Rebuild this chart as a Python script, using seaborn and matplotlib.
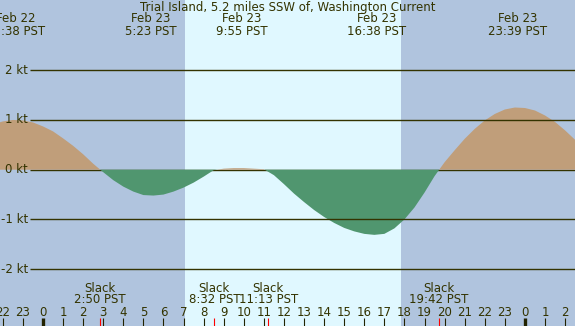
import numpy as np
import seaborn as sns
import matplotlib.pyplot as plt
from matplotlib.transforms import blended_transform_factory

title = "Trial Island, 5.2 miles SSW of, Washington Current"

# current speed (kt), read every half hour, hours counted from Feb 23 00:00
hours = np.arange(-2.5, 27.01, 0.5)
speed = [0.91, 0.97, 1.00, 0.99, 0.95, 0.87, 0.77, 0.63, 0.48, 0.31, 0.12, -0.05,
         -0.21, -0.34, -0.44, -0.51, -0.52, -0.50, -0.44, -0.36, -0.26, -0.14, -0.01, 0.02,
         0.03, 0.03, 0.02, 0.01, -0.11, -0.29, -0.48, -0.65, -0.81, -0.95, -1.07, -1.17,
         -1.24, -1.29, -1.31, -1.29, -1.18, -1.00, -0.76, -0.46, -0.13, 0.15, 0.39, 0.62,
         0.82, 0.99, 1.12, 1.21, 1.25, 1.24, 1.19, 1.09, 0.96, 0.79, 0.60, 0.38]

# max / min events
event_hours = [-1.367, 5.383, 9.917, 16.633, 23.65]
event_dates = ["Feb 22", "Feb 23", "Feb 23", "Feb 23", "Feb 23"]
event_times = ["22:38 PST", "5:23 PST", "9:55 PST", "16:38 PST", "23:39 PST"]

# slack water
slack_hours = [2.833, 8.533, 11.217, 19.7]
slack_times = ["2:50 PST", "8:32 PST", "11:13 PST", "19:42 PST"]

sunrise, sunset = 7.07, 17.83
kt_levels = [2, 1, 0, -1, -2]
hour_ticks = list(range(-2, 27))

night = "#b0c4de"
day = "#e0f8ff"
flood = "#c09e7a"
ebb = "#50966f"
ink = "#333300"

sns.set_style("white")
plt.rcParams["font.family"] = ["DejaVu Sans"]

fig = plt.figure(figsize=(5.75, 3.26), dpi=100)
ax = fig.add_axes([0, 0, 1, 1])
ax.set_facecolor(night)
ax.set_xlim(-2.141, 26.494)
ax.set_ylim(-3.142, 3.411)
for s in ["left", "right", "top", "bottom"]:
    ax.spines[s].set_visible(False)
ax.set_xticks([])
ax.set_yticks([])

ax.axvspan(sunrise, sunset, color=day, lw=0, zorder=0)

spd = np.array(speed)
ax.hlines(0, -0.647, 26.6, color=ink, lw=1.0, zorder=1)
ax.fill_between(hours, spd, 0, where=spd >= 0, interpolate=True, color=flood, lw=0, zorder=2)
ax.fill_between(hours, spd, 0, where=spd <= 0, interpolate=True, color=ebb, lw=0, zorder=2)

for k in kt_levels:
    if k != 0:
        ax.hlines(k, -0.647, 26.6, color=ink, lw=1.0, zorder=3)
    ax.text(-0.747, k, f"{k} kt", ha="right", va="center", fontsize=8.5, color=ink)

tr = blended_transform_factory(ax.transData, ax.transAxes)
H = 326.0

fig.text(0.5, 1 - 7.5 / H, title, ha="center", va="center", fontsize=8.5, color=ink)

for h, d, t in zip(event_hours, event_dates, event_times):
    ax.text(h, 1 - 19 / H, d, transform=tr, ha="center", va="center", fontsize=8.5, color=ink)
    ax.text(h, 1 - 31.5 / H, t, transform=tr, ha="center", va="center", fontsize=8.5, color=ink)

for h, t in zip(slack_hours, slack_times):
    ax.text(h, 1 - 288 / H, "Slack", transform=tr, ha="center", va="center", fontsize=8.5, color=ink)
    ax.text(h, 1 - 299.5 / H, t, transform=tr, ha="center", va="center", fontsize=8.5, color=ink)

for h in hour_ticks:
    ax.text(h, 1 - 312 / H, str(h % 24), transform=tr, ha="center", va="center", fontsize=8.5, color=ink)
    lw = 2.4 if h % 24 == 0 else 0.8
    ax.vlines(h, 0, 8 / H, transform=tr, color="#222200", lw=lw, zorder=4)
for h in slack_hours:
    ax.vlines(h, 0, 8 / H, transform=tr, color="red", lw=0.8, zorder=4)

fig.savefig("out.png", dpi=100)
